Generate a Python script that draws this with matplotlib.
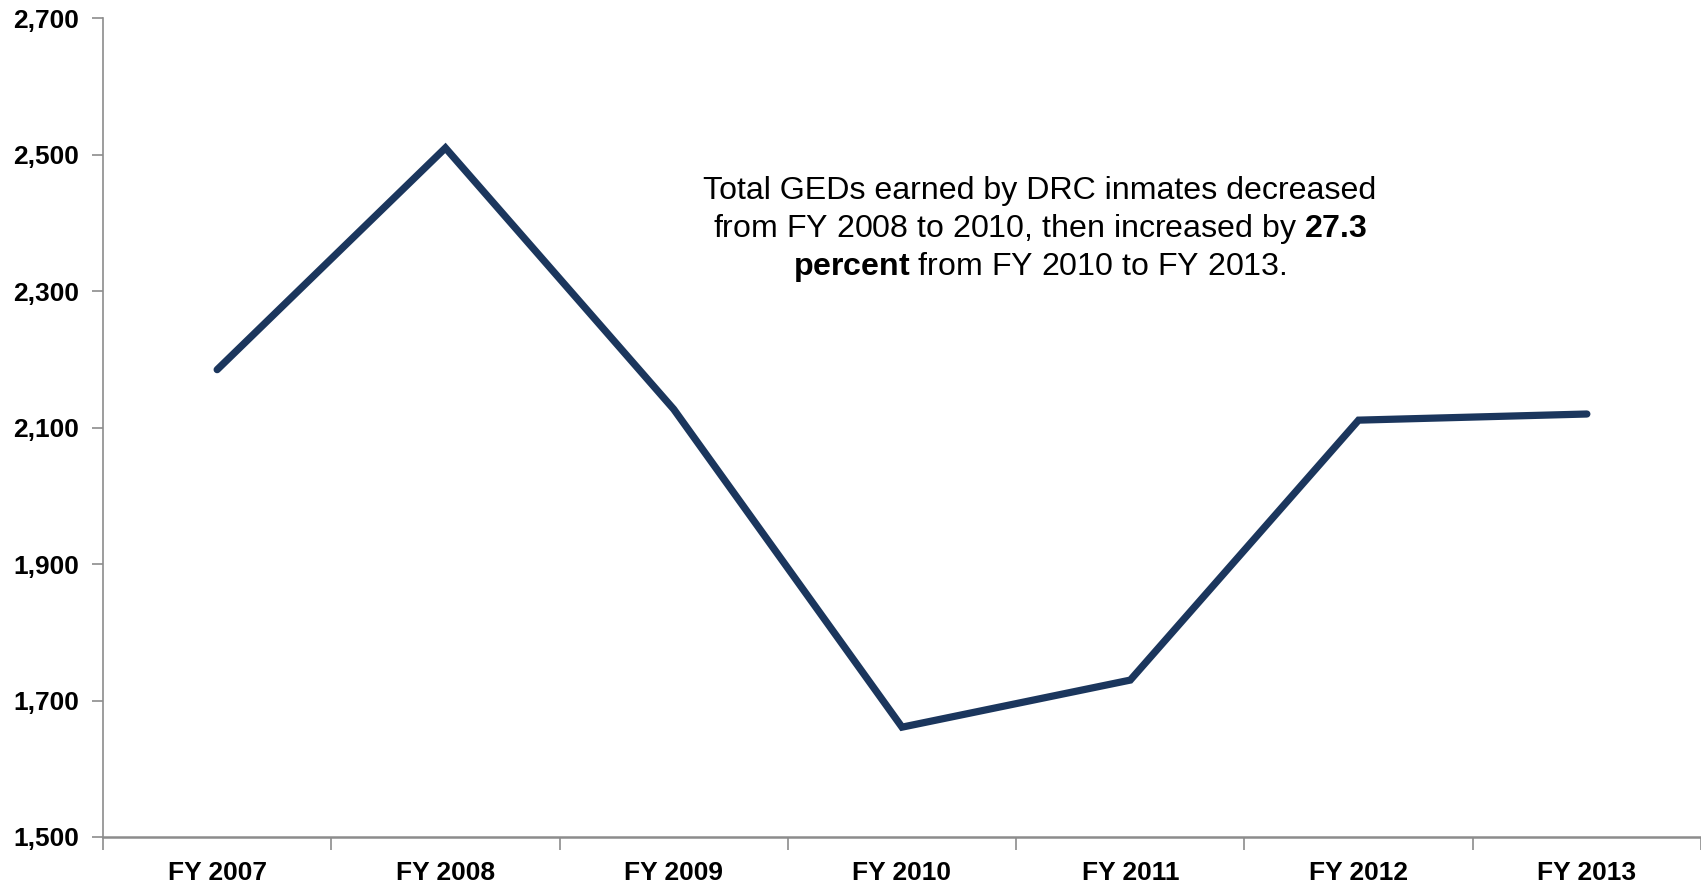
import matplotlib
matplotlib.use("Agg")
import matplotlib.pyplot as plt
from matplotlib.ticker import FixedLocator, FuncFormatter

categories = ["FY 2007", "FY 2008", "FY 2009", "FY 2010", "FY 2011", "FY 2012", "FY 2013"]
geds = [2185, 2510, 2127, 1661, 1730, 2111, 2120]
y_ticks = [1500, 1700, 1900, 2100, 2300, 2500, 2700]

plt.rcParams['font.family'] = ['Liberation Sans', 'DejaVu Sans']
plt.rcParams['mathtext.fontset'] = 'custom'
plt.rcParams['mathtext.rm'] = 'Liberation Sans'
plt.rcParams['mathtext.bf'] = 'Liberation Sans:bold'

fig = plt.figure(figsize=(17.01, 8.85), dpi=100)
ax = fig.add_axes([103/1701, 1 - 837/885, 1 - 103/1701, (837 - 18.3)/885])

x = list(range(len(categories)))
ax.plot(x, geds, color="#1b365d", linewidth=5.2, solid_capstyle="round", solid_joinstyle="miter")

ax.set_xlim(-0.5, len(categories) - 0.5)
ax.set_ylim(y_ticks[0], y_ticks[-1])
ax.set_yticks(y_ticks)
ax.yaxis.set_major_formatter(FuncFormatter(lambda v, p: f"{int(v):,}"))

# boundaries as major ticks, labels at centers as minor
ax.xaxis.set_major_locator(FixedLocator([i - 0.5 for i in range(len(categories) + 1)]))
ax.xaxis.set_major_formatter(FuncFormatter(lambda v, p: ""))
ax.xaxis.set_minor_locator(FixedLocator(x))
ax.set_xticklabels(categories, minor=True)
ax.tick_params(axis="x", which="major", direction="out", length=9, width=1.2, color="#8c8c8c")
ax.tick_params(axis="x", which="minor", length=0, pad=17, labelsize=19)
ax.tick_params(axis="y", direction="out", length=8, width=1.2, color="#8c8c8c", labelsize=19, pad=9)
for lbl in ax.get_xticklabels(minor=True) + ax.get_yticklabels():
    lbl.set_fontweight("bold")

for s in ["top", "right"]:
    ax.spines[s].set_visible(False)
ax.spines["left"].set_color("#8c8c8c")
ax.spines["left"].set_linewidth(1.2)
ax.spines["bottom"].set_color("#8c8c8c")
ax.spines["bottom"].set_linewidth(1.8)

fs = 23.1
fig.text(1040/1701, 1 - 191.5/885, "Total GEDs earned by DRC inmates decreased",
         ha="center", va="center", fontsize=fs)
fig.text(1040/1701, 1 - 229.5/885,
         r"from FY 2008 to 2010, then increased by $\mathbf{27.3}$",
         ha="center", va="center", fontsize=fs)
fig.text(1040/1701, 1 - 266.5/885,
         r"$\mathbf{percent}$ from FY 2010 to FY 2013.",
         ha="center", va="center", fontsize=fs)

fig.savefig("out.png", dpi=100)
